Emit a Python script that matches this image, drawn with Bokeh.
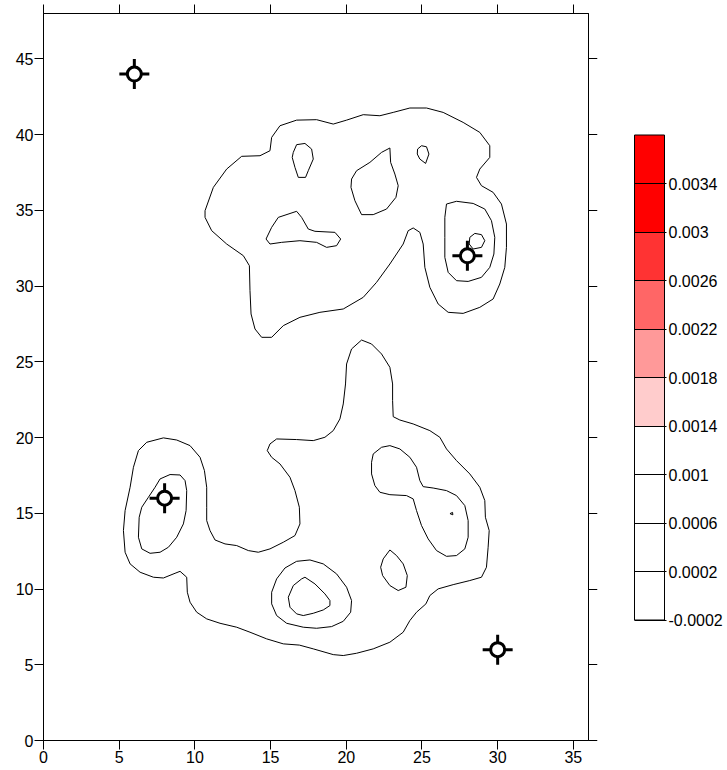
from bokeh.plotting import figure
from bokeh.models import (Range1d, LinearAxis, FixedTicker, ColorBar,
                          LinearColorMapper, CustomJSTickFormatter)
from bokeh.embed import file_html
from bokeh.resources import INLINE

# ---------------- data ----------------
x_ticks = [0, 5, 10, 15, 20, 25, 30, 35]
y_ticks = [0, 5, 10, 15, 20, 25, 30, 35, 40, 45]

levels = [-0.0002, 0.0002, 0.0006, 0.0010, 0.0014, 0.0018, 0.0022,
          0.0026, 0.0030, 0.0034, 0.0038]
level_colors = ["#FFFFFF", "#FFFFFF", "#FFFFFF", "#FFFFFF", "#FFCCCC",
                "#FF9999", "#FF6666", "#FF3333", "#FF0000", "#FF0000"]

wells_x = [6, 28, 8, 30]
wells_y = [44, 32, 16, 6]

upper_outer = [(10.67, 34.98), (11.22, 36.52), (12.10, 37.73), (13.09, 38.57), (14.30, 38.61),
               (14.96, 38.94), (15.07, 39.82), (15.62, 40.59), (16.72, 40.96), (18.04, 40.99),
               (19.14, 40.70), (20.02, 40.96), (21.12, 41.32), (22.22, 41.25), (23.10, 41.47),
               (24.20, 41.76), (25.30, 41.76), (26.40, 41.47), (27.72, 40.81), (28.82, 40.15),
               (29.48, 39.27), (29.48, 38.50), (28.82, 37.73), (28.60, 37.18), (28.93, 36.63),
               (29.70, 36.19), (30.25, 35.42), (30.58, 34.10), (30.58, 32.56), (30.47, 31.24),
               (30.14, 30.14), (29.70, 29.15), (28.82, 28.60), (27.72, 28.20), (26.73, 28.27),
               (26.07, 28.82), (25.52, 29.92), (25.19, 31.24), (25.08, 32.78), (24.86, 33.55),
               (24.42, 33.84), (24.09, 33.66), (23.76, 32.78), (22.88, 31.46), (22.00, 30.25),
               (21.12, 29.26), (19.80, 28.49), (18.26, 28.27), (16.94, 27.94), (15.84, 27.39),
               (15.07, 26.62), (14.41, 26.62), (13.97, 27.17), (13.71, 28.16), (13.64, 29.70),
               (13.60, 31.35), (13.20, 32.01), (12.10, 32.78), (11.11, 33.66), (10.67, 34.54)]
upper_peak_ring = [(26.62, 35.42), (27.28, 35.60), (28.38, 35.46), (29.15, 35.09), (29.59, 34.32),
                   (29.81, 33.22), (29.75, 32.12), (29.48, 31.24), (28.93, 30.58), (28.05, 30.31),
                   (27.28, 30.36), (26.73, 30.91), (26.51, 31.90), (26.51, 33.22), (26.51, 34.54)]
upper_peak_core = [(28.16, 33.22), (28.49, 33.48), (28.93, 33.40), (29.15, 33.00), (28.93, 32.56),
                   (28.38, 32.45), (28.12, 32.78)]
upper_hole_a = [(16.50, 38.83), (16.72, 39.34), (17.27, 39.42), (17.71, 39.05), (17.82, 38.39),
                (17.49, 37.62), (17.31, 37.18), (16.83, 37.18), (16.61, 37.84), (16.43, 38.50)]
upper_hole_b = [(20.35, 37.07), (20.68, 37.62), (21.56, 38.17), (22.33, 38.83), (22.88, 39.12),
                (22.93, 38.17), (23.21, 37.40), (23.43, 36.63), (23.28, 35.86), (22.66, 35.09),
                (21.78, 34.72), (21.01, 34.72), (20.57, 35.64), (20.31, 36.52)]
upper_hole_c = [(24.71, 39.05), (24.97, 39.27), (25.30, 39.20), (25.46, 38.72), (25.24, 38.10),
                (24.86, 38.39), (24.69, 38.72)]
upper_hole_d = [(14.70, 33.11), (15.07, 33.88), (15.51, 34.54), (16.72, 34.94), (17.05, 34.54),
                (17.49, 33.77), (17.93, 33.62), (19.25, 33.55), (19.63, 33.11), (19.36, 32.67),
                (18.70, 32.56), (18.04, 32.89), (16.94, 33.00), (15.73, 32.89), (14.96, 32.78)]

lower_outer = [(21.01, 26.44), (21.67, 26.18), (22.33, 25.52), (22.88, 24.64), (23.06, 23.54),
               (23.06, 22.44), (23.10, 21.38), (23.54, 21.16), (24.42, 20.90), (25.52, 20.46),
               (26.18, 20.02), (26.62, 19.25), (27.28, 18.48), (28.16, 17.60), (28.82, 16.72),
               (29.15, 15.84), (29.19, 14.74), (29.44, 13.86), (29.37, 12.76), (29.26, 11.44),
               (28.93, 10.78), (28.16, 10.56), (27.06, 10.29), (26.07, 10.01), (25.52, 9.57),
               (25.26, 9.02), (24.64, 8.47), (24.20, 7.92), (23.76, 7.15), (22.88, 6.49),
               (21.78, 6.05), (20.68, 5.76), (19.80, 5.61), (19.14, 5.67), (17.82, 6.05),
               (16.90, 6.30), (15.84, 6.38), (14.74, 6.71), (13.64, 7.15), (12.76, 7.48),
               (11.66, 7.74), (10.78, 8.03), (10.12, 8.47), (9.68, 9.13), (9.50, 9.79),
               (9.46, 10.78), (9.02, 11.17), (8.69, 11.04), (7.92, 10.73), (7.26, 10.78),
               (6.38, 11.11), (5.72, 11.66), (5.39, 12.43), (5.28, 13.86), (5.39, 15.18),
               (5.72, 16.72), (5.94, 18.04), (6.27, 19.14), (6.82, 19.69), (7.92, 19.98),
               (8.80, 19.84), (9.68, 19.47), (10.34, 18.70), (10.63, 17.82), (10.78, 16.72),
               (10.78, 15.40), (10.78, 14.52), (11.00, 13.86), (11.33, 13.24), (11.99, 12.98),
               (12.76, 12.87), (13.53, 12.54), (14.19, 12.43), (14.96, 12.65), (15.84, 13.09),
               (16.61, 13.53), (16.94, 14.30), (16.90, 15.40), (16.61, 16.50), (16.28, 17.38),
               (15.62, 18.26), (15.07, 18.70), (14.78, 19.14), (14.96, 19.58), (15.40, 19.91),
               (16.72, 19.87), (17.82, 19.80), (18.59, 20.02), (19.14, 20.46), (19.58, 21.23),
               (19.80, 22.22), (19.95, 23.54), (20.02, 24.86), (20.35, 25.85)]
lower_left_ring = [(7.70, 17.27), (8.36, 17.56), (9.02, 17.53), (9.35, 17.16), (9.46, 16.50),
                   (9.42, 15.18), (9.24, 14.30), (8.80, 13.42), (8.25, 12.76), (7.70, 12.43),
                   (7.04, 12.36), (6.49, 12.65), (6.27, 13.42), (6.32, 14.74), (6.49, 15.40),
                   (6.93, 16.06), (7.37, 16.72)]
lower_bottom_ring = [(17.60, 11.92), (18.48, 11.66), (19.36, 11.00), (20.02, 10.12), (20.35, 9.24),
                     (20.29, 8.47), (19.80, 7.87), (19.03, 7.52), (18.04, 7.41), (17.16, 7.48),
                     (16.06, 7.74), (15.40, 8.25), (15.07, 9.02), (15.07, 9.79), (15.40, 10.67),
                     (15.95, 11.39), (16.72, 11.83)]
lower_bottom_core = [(17.27, 10.78), (17.93, 10.34), (18.59, 9.68), (18.92, 9.24), (18.92, 8.91),
                     (18.48, 8.62), (17.82, 8.40), (17.16, 8.25), (16.72, 8.36), (16.28, 8.80),
                     (16.17, 9.46), (16.50, 10.23), (17.05, 10.67)]
lower_right_ring = [(21.78, 18.92), (22.33, 19.36), (22.88, 19.47), (23.54, 19.25), (24.20, 18.70),
                    (24.64, 18.04), (24.86, 17.16), (25.08, 16.76), (25.74, 16.67), (26.62, 16.50),
                    (27.28, 16.17), (27.83, 15.51), (28.05, 14.52), (28.05, 13.42), (27.83, 12.65),
                    (27.28, 12.21), (26.62, 12.16), (25.96, 12.54), (25.41, 13.31), (24.97, 14.19),
                    (24.64, 15.18), (24.42, 15.95), (23.98, 16.17), (22.88, 16.23), (22.22, 16.39),
                    (21.89, 16.83), (21.67, 17.60), (21.67, 18.37)]
lower_small_loop = [(22.88, 12.58), (23.32, 12.21), (23.76, 11.66), (24.03, 10.89), (23.94, 10.12),
                    (23.43, 9.90), (22.88, 10.23), (22.40, 10.89), (22.27, 11.44), (22.44, 11.99)]
lower_tiny = [(26.85, 14.98), (27.02, 15.06), (27.04, 14.90)]

contours = [upper_outer, upper_peak_ring, upper_peak_core, upper_hole_a, upper_hole_b,
            upper_hole_c, upper_hole_d, lower_outer, lower_left_ring, lower_bottom_ring,
            lower_bottom_core, lower_right_ring, lower_small_loop, lower_tiny]

# ---------------- figure ----------------
FONT = "Liberation Sans"
FSIZE = "16px"

p = figure(width=727, height=769, x_range=Range1d(0, 36), y_range=Range1d(0, 48),
           output_backend="svg", toolbar_location=None,
           x_axis_location=None, y_axis_location=None,
           min_border_left=43, min_border_right=139, min_border_top=13, min_border_bottom=29)
p.grid.visible = False
p.outline_line_color = "black"
p.outline_line_width = 1
p.background_fill_color = "white"
p.border_fill_color = "white"


def make_axis(ticks, labels, standoff=1, tick_out=9, tick_color="black", line_color="black"):
    ax = LinearAxis(ticker=FixedTicker(ticks=ticks))
    ax.major_tick_in = 0
    ax.major_tick_out = tick_out
    ax.minor_tick_line_color = None
    ax.axis_line_color = line_color
    ax.major_tick_line_color = tick_color
    ax.major_label_standoff = standoff
    if labels:
        ax.major_label_text_font = FONT
        ax.major_label_text_font_size = FSIZE
        ax.major_label_text_color = "black"
    else:
        ax.major_label_text_font_size = "1px"
        ax.major_label_text_color = None
    return ax


p.add_layout(make_axis(x_ticks, True, 1), "below")
p.add_layout(make_axis(y_ticks, True, 1), "left")
p.add_layout(make_axis(x_ticks, False, 0), "above")
p.add_layout(make_axis(y_ticks, False, 0), "right")
# blank spacer axis (white ticks on white): keeps the colour bar clear of the frame
p.add_layout(make_axis(y_ticks, False, 0, tick_out=36, tick_color="white", line_color=None), "right")

xs = [[pt[0] for pt in c] + [c[0][0]] for c in contours]
ys = [[pt[1] for pt in c] + [c[0][1]] for c in contours]
p.multi_line(xs, ys, line_color="black", line_width=1, line_join="round")

p.scatter(wells_x, wells_y, marker="cross", size=30, line_width=3, line_color="black")
p.scatter(wells_x, wells_y, marker="circle", size=14, line_width=3,
          line_color="black", fill_color="white")

mapper = LinearColorMapper(palette=level_colors, low=levels[0], high=levels[-1])
cb = ColorBar(color_mapper=mapper,
              ticker=FixedTicker(ticks=levels[:-1]),
              formatter=CustomJSTickFormatter(code="return tick.toFixed(4).replace(/0+$/, '');"),
              orientation="vertical", width=30, height=485,
              location="center_left",
              major_tick_in=30, major_tick_out=2,
              major_tick_line_color="black", major_tick_line_width=1,
              minor_tick_line_color=None,
              bar_line_color="black", bar_line_width=1,
              label_standoff=2,
              major_label_text_font=FONT, major_label_text_font_size=FSIZE,
              major_label_text_color="black",
              background_fill_alpha=0, border_line_color=None,
              padding=1, margin=0)
p.add_layout(cb, "right")

open("out.html", "w").write(file_html(p, INLINE))
